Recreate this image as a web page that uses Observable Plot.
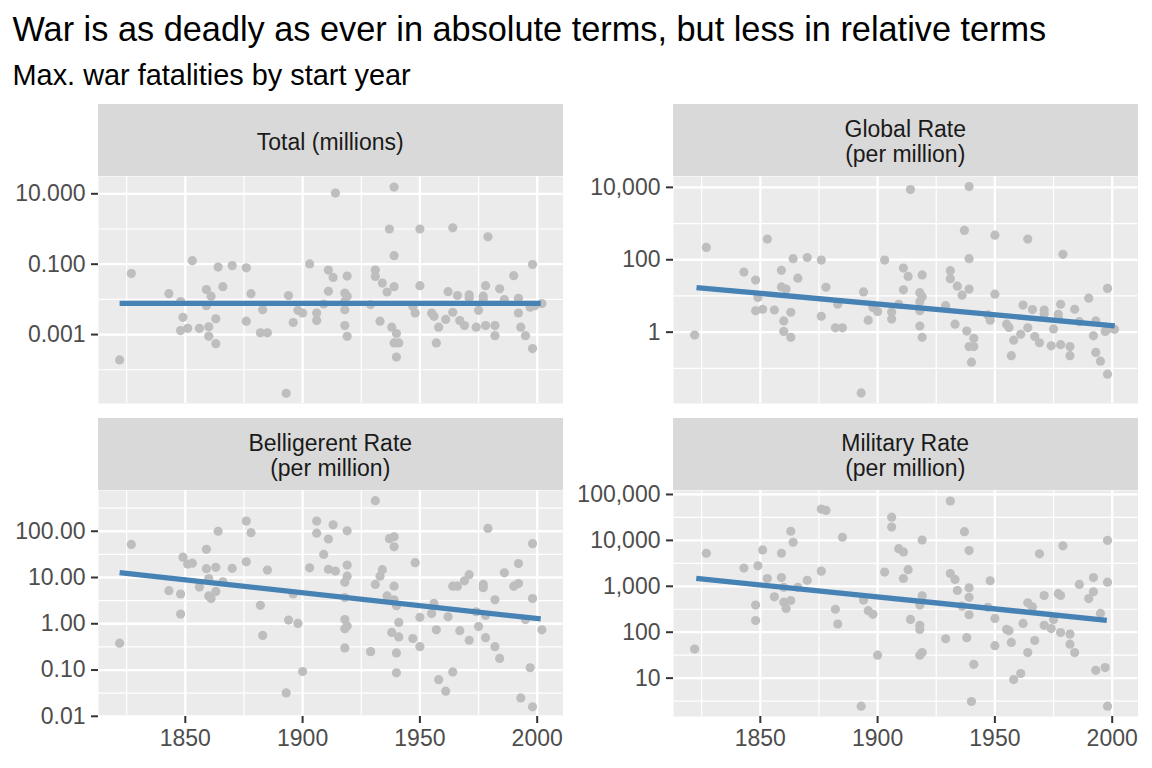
<!DOCTYPE html>
<html><head><meta charset="utf-8">
<script src="https://cdn.jsdelivr.net/npm/d3@7"></script>
<script src="https://cdn.jsdelivr.net/npm/@observablehq/plot@0.6"></script>
<style>
html,body{margin:0;padding:0;background:#fff;}
#root{position:relative;width:1152px;height:768px;overflow:hidden;font-family:"Liberation Sans",Arial,sans-serif;}
.title{position:absolute;left:12.5px;top:12px;font-size:34.3px;line-height:1;color:#000;white-space:nowrap;}
.subtitle{position:absolute;left:12.5px;top:60.5px;font-size:28.9px;line-height:1;color:#000;white-space:nowrap;}
.strip{position:absolute;width:464.5px;height:72px;background:#D9D9D9;color:#1A1A1A;font-size:23px;line-height:25px;text-align:center;display:flex;align-items:center;justify-content:center;box-sizing:border-box;padding-top:4px;}
.panel{position:absolute;}
.panel svg{display:block;}
</style></head>
<body><div id="root">
<div class="title">War is as deadly as ever in absolute terms, but less in relative terms</div>
<div class="subtitle">Max. war fatalities by start year</div>
</div>
<script>
// ---- Data ----
const panelTitles = ["Total (millions)", "Global Rate<br>(per million)", "Belligerent Rate<br>(per million)", "Military Rate<br>(per million)"];

const xDomain = [1813, 2011];
const xMajor = [1850, 1900, 1950, 2000];
const xMinor = [1825, 1875, 1925, 1975];
const xTickLabels = ["1850", "1900", "1950", "2000"];

const totalYears = [1822,1827,1843,1848,1849,1848,1851,1853,1856,1859,1861,1859,1860,1860,1863,1863,1864,1866,1870,1876,1876,1878,1882,1885,1883,1893,1894,1896,1898,1900,1903,1906,1906,1909,1911,1911,
  1914,1939,1937,1950,1964,1979,1939,1913,1919,1931,1931,1934,1939,1936,1950,1918,1919,1918,1918,1929,1918,1919,1933,1938,1940,1939,1941,1940,1947,1948,1955,1956,1958,1957,1961,1962,1966,1964,1967,1969,1971,1971,1974,1975,1977,1977,1978,1978,1982,1982,1984,1986,1990,1992,1992,1993,1995,1997,1999,1998,1998,2002];
const totalValues = [0.00019,0.054,0.0145,0.0087,0.0031,0.0013,0.0015,0.126,0.0015,0.019,0.0123,0.0066,0.00166,0.00089,0.0028,0.00055,0.083,0.023,0.091,0.079,0.0024,0.0145,0.00112,0.00112,0.0051,0.0000214,0.0129,0.0022,0.0049,0.0041,0.102,0.0041,0.0025,0.0074,0.068,0.017,
  10.5,15.5,1.0,1.0,1.08,0.60,0.174,0.042,0.046,0.068,0.045,0.029,0.023,0.0162,0.0245,0.0151,0.0123,0.0087,0.0051,0.0071,0.0018,0.00089,0.0024,0.00162,0.00107,0.00058,0.00058,0.00023,0.0063,0.0041,0.0041,0.0033,0.00162,0.00058,0.0027,0.0166,0.0129,0.0043,0.0025,0.0018,0.0135,0.011,0.00162,0.0049,0.0123,0.0098,0.0245,0.0018,0.0018,0.00093,0.020,0.0098,0.047,0.0107,0.0041,0.00162,0.00093,0.006,0.0066,0.098,0.0004,0.0076];

const globalYears = [1822,1827,1843,1848,1849,1848,1851,1853,1856,1859,1859,1861,1860,1860,1863,1863,1864,1866,1870,1876,1876,1878,1882,1885,1883,1893,1894,1896,1898,1900,1903,1906,1906,1909,1911,1911,
  1914,1939,1937,1950,1964,1979,1939,1913,1919,1931,1931,1934,1939,1936,1950,1918,1919,1918,1918,1929,1918,1919,1933,1938,1941,1939,1941,1940,1947,1948,1955,1956,1958,1957,1961,1962,1966,1964,1967,1969,1971,1971,1974,1975,1977,1977,1978,1978,1982,1982,1984,1986,1990,1993,1992,1993,1995,1997,1998,1998,1998,2001];
const globalValues = [0.83,219,45.7,27.5,9.1,3.9,4.3,372,4.1,51,17.8,15.5,2.04,1.05,3.55,0.72,107,31,115,98,2.75,17.4,1.32,1.32,5.9,0.021,12.9,2.14,4.8,3.7,98,3.6,2.3,5.9,59,14.8,
  8700,10500,646,479,372,141,107,34.7,38,50,30,18.6,15.5,10.5,11.2,12.3,9.5,6.9,3.9,5.4,1.48,0.72,1.66,1.07,0.68,0.40,0.40,0.148,3.0,2.14,1.66,1.35,0.60,0.224,0.87,5.6,4.2,1.32,0.76,0.51,4.1,3.2,0.42,1.23,3.1,2.45,5.9,0.45,0.40,0.224,4.3,1.95,8.7,2.04,0.79,0.275,0.158,1.05,1.2,16.2,0.069,1.2];

const bellYears = [1822,1827,1843,1848,1848,1849,1851,1853,1856,1859,1859,1860,1860,1861,1863,1863,1864,1866,1870,1876,1876,1878,1882,1883,1885,1893,1894,1896,1898,1900,1903,1906,1906,1909,1911,1911,
  1931,1913,1919,1937,1939,1939,1914,1919,1919,1918,1918,1934,1933,1931,1948,1939,1936,1939,1940,1918,1919,1918,1918,1929,1938,1941,1941,1940,1940,1947,1950,1950,1955,1956,1957,1958,1961,1962,1964,1964,1966,1967,1969,1971,1971,1974,1975,1977,1977,1978,1978,1979,1982,1982,1984,1986,1990,1992,1992,1995,1997,1993,1998,1998,1998,2002];
const bellValues = [0.38,52,5.2,4.4,1.62,27.5,19.5,20.4,6.2,40.7,15.5,9.5,4.0,3.5,16.6,5.0,100,8.1,15.8,166,21.9,93,2.5,0.56,14.5,0.032,1.2,4.4,1.02,0.093,16.2,166,91,31.6,68,15.1,
  457,138,102,69,76,46,13.8,18.6,10.7,7.9,3.7,14.8,10.7,7.1,20.9,6.5,4.0,3.3,2.45,1.23,0.89,0.78,0.30,0.25,0.65,0.52,1.07,0.234,0.087,0.48,1.38,0.32,1.66,2.75,0.74,0.062,0.035,1.41,0.091,6.5,6.5,0.71,8.5,11.5,0.44,1.82,0.87,7.1,6.0,1.51,0.50,115,3.3,0.32,0.178,12.6,6.5,7.4,20,1.23,0.112,0.025,0.016,54,3.5,0.74];

const milYears = [1822,1827,1843,1848,1848,1849,1851,1853,1856,1859,1859,1860,1860,1861,1863,1863,1864,1866,1870,1876,1878,1876,1882,1883,1885,1893,1894,1896,1898,1900,1903,1906,1906,1909,1911,1911,
  1931,1937,1919,1939,1913,1931,1933,1934,1939,1939,1948,1919,1918,1936,1939,1914,1918,1918,1919,1918,1929,1938,1941,1940,1947,1950,1950,1955,1956,1957,1958,1961,1962,1964,1966,1964,1967,1969,1971,1971,1974,1975,1977,1978,1978,1979,1982,1982,1984,1986,1990,1992,1992,1995,1993,1997,1998,1998,1998];
const milValues = [43,5250,2500,390,180,2800,6200,1480,590,5250,1550,950,450,330,490,15800,9100,950,1350,48000,45000,2140,316,151,11700,2.45,500,295,245,31.6,2040,32000,19500,6600,5600,1480,
  72000,15500,10200,6000,2300,1900,1410,810,930,575,1320,620,390,370,240,190,141,115,36,31.6,72,76,20,3.1,350,200,51,115,107,60,9.3,12.6,155,437,355,36,66,5100,630,141,120,190,690,630,98,7600,91,55,36,1100,540,760,1550,257,14.8,17,10000,1230,2.45];

// fitted trend endpoints
const totalTrendX = [1822, 2001.5], totalTrendY = [0.00774, 0.00774];
const globalTrendX = [1822.8, 2001.1], globalTrendY = [17.1, 1.50];
const bellTrendX = [1822, 2001.5], bellTrendY = [12.8, 1.27];
const milTrendX = [1822.7, 1997.7], milTrendY = [1483, 182];

// y scales / ticks
const totalDomain = [1.1e-5, 31], totalMajor = [0.001, 0.1, 10], totalMinor = [0.0001, 0.01, 1], totalLabels = ["0.001", "0.100", "10.000"];
const globalDomain = [0.0107, 19950], globalMajor = [1, 100, 10000], globalMinor = [0.1, 10, 1000], globalLabels = ["1", "100", "10,000"];
const bellDomain = [0.0099, 760], bellMajor = [0.01, 0.1, 1, 10, 100], bellMinor = [0.0316, 0.316, 3.16, 31.6, 316], bellLabels = ["0.01", "0.10", "1.00", "10.00", "100.00"];
const milDomain = [1.46, 122000], milMajor = [10, 100, 1000, 10000, 100000], milMinor = [3.16, 31.6, 316, 3162, 31623], milLabels = ["10", "100", "1,000", "10,000", "100,000"];

// ---- Drawing ----
const root = document.getElementById("root");
const FONT = "Liberation Sans, Arial, sans-serif";

function addStrip(html, left, top) {
  const d = document.createElement("div");
  d.className = "strip";
  d.style.left = left + "px";
  d.style.top = top + "px";
  d.innerHTML = html;
  root.appendChild(d);
}

function addPanel({years, values, domain, major, minor, labels, trendX, trendY, bottom, left, top, width, marginLeft}) {
  const pts = years.map((x, i) => ({x, y: values[i]}));
  const trend = trendX.map((x, i) => ({x, y: trendY[i]}));
  const yLab = new Map(major.map((v, i) => [v, labels[i]]));
  const xLab = new Map(xMajor.map((v, i) => [v, xTickLabels[i]]));
  const plotH = bottom ? 226 : 227;
  const marginBottom = bottom ? 52 : 0;
  const marks = [
    Plot.frame({fill: "#EBEBEB", stroke: "none"}),
    Plot.gridY(minor, {stroke: "#FFFFFF", strokeOpacity: 1, strokeWidth: 1.2}),
    Plot.gridX(xMinor, {stroke: "#FFFFFF", strokeOpacity: 1, strokeWidth: 1.2}),
    Plot.gridY(major, {stroke: "#FFFFFF", strokeOpacity: 1, strokeWidth: 2.3}),
    Plot.gridX(xMajor, {stroke: "#FFFFFF", strokeOpacity: 1, strokeWidth: 2.3}),
    Plot.dot(pts, {x: "x", y: "y", r: 4.6, fill: "#BEBEBE", stroke: "none"}),
    Plot.line(trend, {x: "x", y: "y", stroke: "#4682B4", strokeWidth: 5.3, strokeLinecap: "butt"}),
    Plot.axisY(major, {tickFormat: d => yLab.get(d), tickSize: 7, tickPadding: 6, fontSize: 23, stroke: "#333333", fill: "#4D4D4D", strokeWidth: 2, label: null})
  ];
  if (bottom) {
    marks.push(Plot.axisX(xMajor, {tickFormat: d => xLab.get(d), tickSize: 7, tickPadding: 6, fontSize: 23, stroke: "#333333", fill: "#4D4D4D", strokeWidth: 2, label: null}));
  }
  const chart = Plot.plot({
    width, height: plotH + marginBottom,
    marginLeft, marginRight: 0.5, marginTop: 0, marginBottom,
    x: bottom ? {domain: xDomain} : {domain: xDomain, axis: null},
    y: {type: "log", domain},
    style: {fontFamily: FONT, background: "transparent", overflow: "visible"},
    marks
  });
  const wrap = document.createElement("div");
  wrap.className = "panel";
  wrap.style.left = left + "px";
  wrap.style.top = top + "px";
  wrap.appendChild(chart);
  root.appendChild(wrap);
}

addStrip(panelTitles[0], 98, 104);
addStrip(panelTitles[1], 673, 104);
addStrip(panelTitles[2], 98, 418);
addStrip(panelTitles[3], 673, 418);

addPanel({years: totalYears, values: totalValues, domain: totalDomain, major: totalMajor, minor: totalMinor, labels: totalLabels,
  trendX: totalTrendX, trendY: totalTrendY, bottom: false, left: 0, top: 176, width: 563, marginLeft: 98});
addPanel({years: globalYears, values: globalValues, domain: globalDomain, major: globalMajor, minor: globalMinor, labels: globalLabels,
  trendX: globalTrendX, trendY: globalTrendY, bottom: false, left: 576, top: 176, width: 562, marginLeft: 97});
addPanel({years: bellYears, values: bellValues, domain: bellDomain, major: bellMajor, minor: bellMinor, labels: bellLabels,
  trendX: bellTrendX, trendY: bellTrendY, bottom: true, left: 0, top: 490, width: 563, marginLeft: 98});
addPanel({years: milYears, values: milValues, domain: milDomain, major: milMajor, minor: milMinor, labels: milLabels,
  trendX: milTrendX, trendY: milTrendY, bottom: true, left: 576, top: 490, width: 562, marginLeft: 97});
</script>
</body></html>
